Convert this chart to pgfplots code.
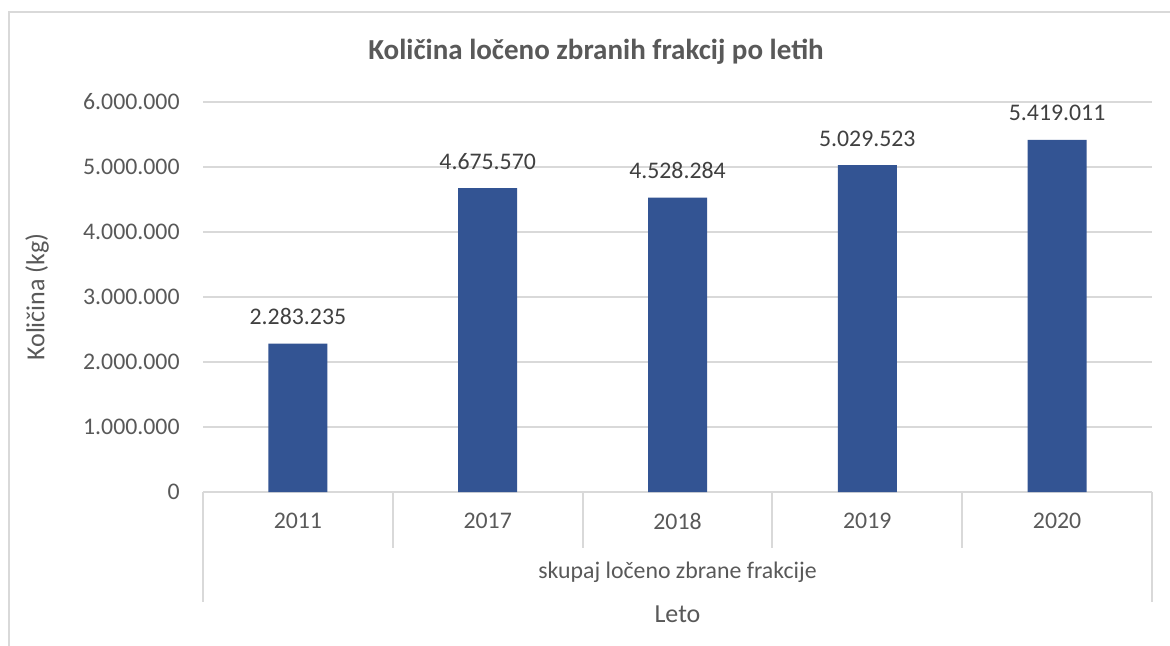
\documentclass[border=0pt]{standalone}
\usepackage{pgfplots}
\pgfplotsset{compat=1.18}
\usepackage{fontspec}
\setmainfont{Carlito}
\definecolor{barblue}{RGB}{51,84,147}
\definecolor{gridc}{RGB}{217,217,217}
\definecolor{txt}{RGB}{89,89,89}
\definecolor{lbl}{RGB}{64,64,64}
\begin{document}
\begin{tikzpicture}
\useasboundingbox (0,0) rectangle (585bp,323bp);
\fill[white] (0,0) rectangle (585bp,323bp);
\draw[gridc, line width=1bp] (4.5bp,-1bp) -- (4.5bp,317bp) -- (590bp,317bp);
\begin{axis}[
  at={(101.5bp,77bp)}, anchor=south west,
  scale only axis, width=474.5bp, height=195bp,
  xmin=-0.5, xmax=4.5, ymin=0, ymax=6000000,
  clip=false,
  scaled y ticks=false,
  axis x line*=bottom, axis y line*=left,
  x axis line style={draw=gridc, line width=1bp},
  y axis line style={draw=none},
  major tick length=0pt,
  ymajorgrids, grid style={draw=gridc, line width=1bp},
  xtick={0,1,2,3,4},
  xticklabels={2011,2017,2018,2019,2020},
  ytick={0,1000000,2000000,3000000,4000000,5000000,6000000},
  yticklabels={0,1.000.000,2.000.000,3.000.000,4.000.000,5.000.000,6.000.000},
  xticklabel style={font=\fontsize{11.9bp}{14bp}\selectfont, text=txt, anchor=center, inner sep=0pt, yshift=-14.5bp},
  yticklabel style={font=\fontsize{11.9bp}{14bp}\selectfont, text=txt, anchor=east, inner sep=0pt, xshift=-11.5bp},
  point meta=explicit symbolic,
  nodes near coords,
  nodes near coords style={font=\fontsize{11.9bp}{14bp}\selectfont, text=lbl, anchor=south, inner sep=0pt, yshift=9.2bp},
]
\addplot[ybar, bar width=29.5bp, fill=barblue, draw=none] coordinates {
  (0,2283235) [2.283.235]
  (1,4675570) [4.675.570]
  (2,4528284) [4.528.284]
  (3,5029523) [5.029.523]
  (4,5419011) [5.419.011]
};
\draw[gridc, line width=1bp] (axis cs:0.5,0) -- ([yshift=-28bp]axis cs:0.5,0);
\draw[gridc, line width=1bp] (axis cs:1.5,0) -- ([yshift=-28bp]axis cs:1.5,0);
\draw[gridc, line width=1bp] (axis cs:2.5,0) -- ([yshift=-28bp]axis cs:2.5,0);
\draw[gridc, line width=1bp] (axis cs:3.5,0) -- ([yshift=-28bp]axis cs:3.5,0);
\draw[gridc, line width=1bp] (axis cs:-0.5,0) -- ([yshift=-55bp]axis cs:-0.5,0);
\draw[gridc, line width=1bp] (axis cs:4.5,0) -- ([yshift=-55bp]axis cs:4.5,0);
\end{axis}
\node[text=txt, font=\fontsize{14.5bp}{17bp}\selectfont\bfseries] at (298bp,297bp) {Količina ločeno zbranih frakcij po letih};
\node[text=txt, font=\fontsize{13bp}{15bp}\selectfont, rotate=90] at (18.5bp,174.5bp) {Količina (kg)};
\node[text=txt, font=\fontsize{11.9bp}{14bp}\selectfont] at (338.75bp,37bp) {skupaj ločeno zbrane frakcije};
\node[text=txt, font=\fontsize{13bp}{15bp}\selectfont] at (338.75bp,16bp) {Leto};
\end{tikzpicture}
\end{document}
